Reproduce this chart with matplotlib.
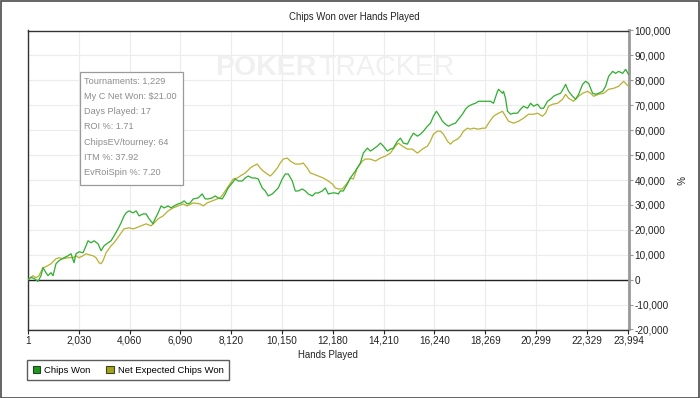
import matplotlib
matplotlib.use("Agg")
import matplotlib.pyplot as plt
from matplotlib.patches import Rectangle, Patch
from matplotlib.ticker import FuncFormatter

plt.rcParams['font.family'] = ['Liberation Sans', 'DejaVu Sans']

# ---- data (hands played, chips) ----
chips_hands = [1, 120, 240, 400, 520, 600, 720, 800, 920, 1000, 1120, 1240, 1440, 1600, 1720, 1840, 1920,
               2040, 2200, 2320, 2400, 2520, 2640, 2800, 2920, 3040, 3200, 3320, 3440, 3600, 3720, 3840,
               3920, 4040, 4200, 4320, 4440, 4600, 4720, 4840, 5000, 5040, 5200, 5320, 5440, 5600, 5720,
               5840, 6000, 6120, 6240, 6360, 6480, 6600, 6800, 6960, 7080, 7200, 7360, 7480, 7600, 7760,
               7880, 8000, 8160, 8280, 8400, 8560, 8680, 8800, 8960, 9080, 9200, 9360, 9480, 9600, 9760,
               9880, 10000, 10160, 10280, 10400, 10560, 10680, 10800, 10960, 11080, 11200, 11360, 11480,
               11600, 11760, 11880, 12000, 12160, 12280, 12400, 12480, 12600, 12760, 12880, 13080, 13280,
               13400, 13560, 13680, 13800, 13960, 14080, 14200, 14360, 14480, 14600, 14760, 14880, 15000,
               15160, 15280, 15400, 15560, 15680, 15800, 15960, 16080, 16200, 16320, 16400, 16560, 16680,
               16800, 16960, 17080, 17200, 17360, 17480, 17600, 17760, 17880, 18000, 18160, 18280, 18480,
               18600, 18760, 18800, 18960, 19000, 19080, 19160, 19280, 19400, 19560, 19680, 19800, 19960,
               20080, 20200, 20360, 20480, 20600, 20760, 20880, 21000, 21160, 21280, 21400, 21480, 21600,
               21760, 21880, 22000, 22160, 22280, 22400, 22560, 22680, 22800, 22960, 23080, 23200, 23360,
               23480, 23600, 23760, 23880, 23994]
chips_won = [0, 900, 500, -700, 1600, 4800, 2800, 1600, 2800, 1600, 6400, 7600, 8800, 9600, 10400, 6800, 10400,
             11200, 10800, 13600, 15600, 14800, 15600, 14400, 11600, 13600, 14800, 15600, 17600, 20400, 22800,
             25600, 26800, 27600, 26800, 27600, 25600, 26400, 26400, 24400, 22400, 23600, 26800, 29600, 28800,
             29600, 28800, 29600, 30400, 30800, 31600, 30400, 30800, 32400, 32800, 34400, 32400, 32400, 32800,
             33600, 32800, 32400, 34400, 36800, 38800, 40400, 39600, 39600, 40800, 41600, 40800, 40800, 40400,
             36800, 35600, 33600, 34400, 35600, 36800, 40400, 42400, 42400, 39600, 35600, 35600, 36400, 35600,
             34400, 33600, 34800, 34800, 35600, 36800, 34400, 34800, 34800, 34400, 35600, 35600, 38400, 40800,
             43600, 46800, 50800, 52800, 51600, 52400, 53600, 54800, 53600, 51600, 52400, 52800, 55600, 56800,
             54800, 54400, 56800, 58800, 57600, 58400, 59600, 61600, 62800, 65600, 67600, 66400, 63600, 62400,
             61600, 62400, 62800, 64400, 66400, 68400, 69600, 70400, 70800, 71600, 71600, 71600, 71600, 70800,
             75600, 76400, 74800, 75600, 72800, 67600, 66400, 66800, 66800, 68400, 69600, 68800, 70800, 69600,
             70400, 68800, 68800, 71600, 72400, 73600, 74400, 74800, 76800, 78400, 75600, 73600, 72400, 74400,
             78400, 79600, 78800, 74800, 74400, 74800, 75600, 77600, 81600, 83600, 82800, 83600, 82800, 84400,
             82400]

ev_hands = [1, 200, 320, 440, 600, 720, 920, 1120, 1240, 1400, 1600, 1800, 1920, 2040, 2200, 2320, 2440,
            2600, 2720, 2840, 2920, 3000, 3120, 3320, 3440, 3640, 3840, 4040, 4200, 4320, 4520, 4720, 4920,
            5040, 5200, 5400, 5600, 5800, 6000, 6200, 6360, 6600, 6880, 7000, 7160, 7360, 7560, 7680, 7800,
            7960, 8200, 8360, 8480, 8680, 8880, 9000, 9160, 9280, 9400, 9560, 9680, 9800, 9960, 10080, 10200,
            10360, 10480, 10680, 10880, 11000, 11160, 11280, 11400, 11600, 11800, 12000, 12160, 12280, 12400,
            12560, 12760, 12880, 13000, 13160, 13360, 13480, 13680, 13880, 14080, 14280, 14480, 14680, 14800,
            14960, 15160, 15360, 15560, 15760, 15960, 16080, 16200, 16360, 16480, 16600, 16760, 16880, 17000,
            17160, 17280, 17400, 17560, 17680, 17800, 18000, 18160, 18280, 18400, 18600, 18800, 18960, 19080,
            19200, 19400, 19600, 19800, 20000, 20200, 20360, 20560, 20680, 20800, 20960, 21160, 21360, 21480,
            21600, 21800, 22000, 22160, 22360, 22480, 22600, 22800, 23000, 23200, 23400, 23600, 23800, 23994]
ev_won = [0, 1600, 800, 1600, 4800, 5200, 6400, 8400, 8800, 8400, 8800, 8800, 9600, 8800, 9600, 10400, 10000,
          9600, 8800, 6800, 6400, 7600, 10800, 13600, 14800, 17600, 20400, 20800, 20400, 20800, 21600, 22400,
          21600, 22800, 24400, 25600, 27600, 28800, 29600, 30400, 29600, 30800, 30400, 29600, 30800, 31600,
          32400, 32800, 34400, 36800, 40400, 40800, 41600, 42800, 44800, 45600, 46400, 44800, 43600, 42400,
          41600, 42800, 44800, 46800, 48400, 48800, 47600, 46400, 46400, 46800, 44800, 42800, 42400, 41600,
          40800, 39600, 38400, 36800, 36400, 36400, 38800, 40800, 40400, 44800, 47600, 48400, 48400, 47600,
          48800, 49600, 50800, 53600, 54800, 53600, 52400, 52400, 50800, 52400, 53600, 55600, 58400, 59600,
          59600, 58400, 55600, 54400, 55600, 56400, 57600, 59600, 60800, 60400, 60800, 60400, 60800, 60800,
          62800, 65600, 66800, 67600, 65600, 63600, 62800, 63600, 64800, 66400, 66400, 66800, 65600, 66800,
          69600, 70400, 70800, 72400, 74400, 72800, 71600, 73600, 74800, 75600, 74800, 73600, 74400, 74800,
          76400, 76800, 77600, 79600, 77600]

x_ticks = [1, 2030, 4060, 6090, 8120, 10150, 12180, 14210, 16240, 18269, 20299, 22329, 23994]
y_ticks = list(range(-20000, 100001, 10000))

series_names = ["Chips Won", "Net Expected Chips Won"]
title = "Chips Won over Hands Played"
info_lines = ["Tournaments: 1,229", "My C Net Won: $21.00", "Days Played: 17", "ROI %: 1.71",
              "ChipsEV/tourney: 64", "ITM %: 37.92", "EvRoiSpin %: 7.20"]

# ---- figure ----
W, H = 700, 398
fig = plt.figure(figsize=(W / 100, H / 100), dpi=100)
fig.patch.set_facecolor("white")

def fx(px):
    return px / W

def fy(py):
    return 1 - py / H

# outer frame
fig.patches.append(Rectangle((0.5 / W, 0.5 / H), 1 - 1.5 / W, 1 - 1.5 / H, transform=fig.transFigure,
                             fill=False, edgecolor="#4a4a4a", linewidth=1.2))

ax = fig.add_axes([fx(28), fy(329.5), fx(628.5) - fx(28), fy(30.5) - fy(329.5)])
ax.set_xlim(x_ticks[0], x_ticks[-1])
ax.set_ylim(y_ticks[0], y_ticks[-1])

ax.set_xticks(x_ticks)
ax.set_xticklabels([f"{v:,}" for v in x_ticks])
ax.set_yticks(y_ticks)
ax.yaxis.set_major_formatter(FuncFormatter(lambda v, p: f"{int(v):,}"))
ax.yaxis.tick_right()
ax.tick_params(axis="both", labelsize=7.2, colors="#222222", length=3, width=0.8, pad=1.5)
ax.tick_params(axis="y", colors="#999999", labelcolor="#222222")
ax.grid(True, color="#ececec", linewidth=0.8)
ax.set_axisbelow(True)

for s in ["left", "top", "bottom"]:
    ax.spines[s].set_color("#333333")
    ax.spines[s].set_linewidth(1.0)
ax.spines["right"].set_color("#999999")
ax.spines["right"].set_linewidth(2.0)

# watermark
fig.text(fx(215), fy(68), "POKER", fontsize=20.5, fontweight="bold", color="#f0f0f0",
         va="center", ha="left", zorder=0)
fig.text(fx(318), fy(68), "TRACKER", fontsize=20.5, color="#f0f0f0",
         va="center", ha="left", zorder=0)

ax.axhline(0, color="#222222", linewidth=1.0, zorder=2)
ax.plot(ev_hands, ev_won, color="#b8b030", linewidth=0.9, zorder=3)
ax.plot(chips_hands, chips_won, color="#2eae2e", linewidth=0.9, zorder=4)

ax.set_xlabel("Hands Played", fontsize=6.9, color="#222222", labelpad=3)
fig.text(fx(354), fy(17), title, ha="center", va="center", fontsize=6.9, color="#222222")
fig.text(fx(679), fy(180), "%", ha="center", va="center", fontsize=7, color="#222222", rotation=270)

# info box
fig.patches.append(Rectangle((fx(80), fy(185)), fx(183) - fx(80), fy(72) - fy(185), transform=fig.transFigure,
                             facecolor="white", edgecolor="#9a9a9a", linewidth=0.9, zorder=5))
for i, line in enumerate(info_lines):
    fig.text(fx(84), fy(81 + i * 15.3), line, fontsize=6.6, color="#8c8c8c", va="center", ha="left", zorder=6)

handles = [Patch(facecolor="#1b9a1b", edgecolor="#224422", linewidth=0.8),
           Patch(facecolor="#a3a31c", edgecolor="#444422", linewidth=0.8)]
leg = fig.legend(handles, series_names, loc="upper left", bbox_to_anchor=(fx(27), fy(360)), ncol=2,
                 fontsize=6.8, frameon=True, fancybox=False, handlelength=0.8, handleheight=0.8,
                 handletextpad=0.4, columnspacing=1.7, borderpad=0.6, borderaxespad=0)
leg.get_frame().set_edgecolor("#333333")
leg.get_frame().set_linewidth(1.0)

fig.savefig("out.png", dpi=100)
